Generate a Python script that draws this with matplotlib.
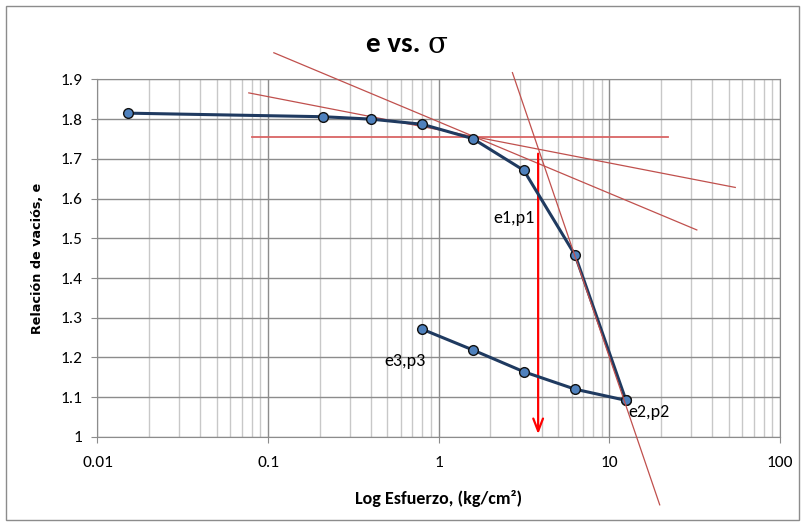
import matplotlib.pyplot as plt
from matplotlib.patches import Rectangle
from matplotlib.ticker import LogLocator, NullFormatter, FixedLocator

# loading branch
carga_p = [0.015, 0.21, 0.40, 0.80, 1.58, 3.15, 6.3, 12.5]
carga_e = [1.815, 1.806, 1.800, 1.787, 1.751, 1.671, 1.457, 1.092]
# unloading branch
descarga_p = [12.5, 6.3, 3.15, 1.58, 0.80]
descarga_e = [1.092, 1.120, 1.164, 1.219, 1.271]

# construction lines (Casagrande)
horiz_p = [0.08, 21.9]
horiz_e = [1.756, 1.756]
tang_p = [0.077, 54.6]
tang_e = [1.866, 1.628]
bisec_p = [0.108, 32.5]
bisec_e = [1.967, 1.521]
virgen_p = [2.70, 19.7]
virgen_e = [1.917, 0.829]
flecha_p = 3.82
flecha_e = [1.720, 1.0]

etiquetas = [("e1,p1", 2.1, 1.551), ("e3,p3", 0.48, 1.190), ("e2,p2", 12.9, 1.063)]

plt.rcParams['font.family'] = ['Carlito', 'Lato', 'DejaVu Sans']

fig = plt.figure(figsize=(8.05, 5.25), dpi=100)
fig.patches.append(Rectangle((6 / 805, 5 / 525), 793 / 805, 514 / 525, transform=fig.transFigure,
                             fill=False, edgecolor='#8c8c8c', linewidth=1))
ax = fig.add_axes([0.1211, 0.1678, 0.848, 0.681])

ax.set_xscale('log')
ax.set_xlim(0.01, 100)
ax.set_ylim(1.0, 1.9)
ax.yaxis.set_major_locator(FixedLocator([1.0, 1.1, 1.2, 1.3, 1.4, 1.5, 1.6, 1.7, 1.8, 1.9]))
ax.set_yticklabels(['1', '1.1', '1.2', '1.3', '1.4', '1.5', '1.6', '1.7', '1.8', '1.9'])
ax.xaxis.set_minor_locator(LogLocator(base=10, subs=range(2, 10), numticks=20))
ax.xaxis.set_minor_formatter(NullFormatter())
ax.set_xticks([0.01, 0.1, 1, 10, 100])
ax.set_xticklabels(['0.01', '0.1', '1', '10', '100'])

ax.grid(True, which='major', axis='both', color='#8c8c8c', linewidth=1)
ax.grid(True, which='minor', axis='x', color='#c8c8c8', linewidth=1)
ax.set_axisbelow(True)
for s in ax.spines.values():
    s.set_color('#8c8c8c')
ax.tick_params(axis='both', which='major', length=4, color='#8c8c8c', labelsize=12.5, pad=7)
ax.tick_params(axis='x', which='minor', length=0)
ax.tick_params(axis='x', which='major', pad=10)

ax.plot(carga_p, carga_e, color='#1F3A60', linewidth=2.2, marker='o', markersize=7,
        markerfacecolor='#4F81BD', markeredgecolor='#111111', markeredgewidth=1, zorder=4)
ax.plot(descarga_p, descarga_e, color='#1F3A60', linewidth=2.2, marker='o', markersize=7,
        markerfacecolor='#4F81BD', markeredgecolor='#111111', markeredgewidth=1, zorder=4)

ax.plot(horiz_p, horiz_e, color='#D96565', linewidth=1.3, clip_on=False, zorder=3)
ax.plot(tang_p, tang_e, color='#C0504D', linewidth=0.9, clip_on=False, zorder=3)
ax.plot(bisec_p, bisec_e, color='#C0504D', linewidth=0.9, clip_on=False, zorder=3)
ax.plot(virgen_p, virgen_e, color='#C0504D', linewidth=0.9, clip_on=False, zorder=5)

ax.annotate('', xy=(flecha_p, flecha_e[1]), xytext=(flecha_p, flecha_e[0]),
            arrowprops=dict(arrowstyle='->,head_length=0.9,head_width=0.35', color='#FF0000', lw=1.6),
            zorder=3)

for txt, x, y in etiquetas:
    ax.text(x, y, txt, fontsize=13, color='black', ha='left', va='center', zorder=6)

fig.text(0.531, 0.917, 'e vs. ', fontsize=21, fontweight='bold', ha='right', va='center')
fig.text(0.531, 0.914, 'σ', fontsize=21, ha='left', va='center', family=['DejaVu Serif'])

ax.set_xlabel('Log Esfuerzo, (kg/cm²)', fontsize=13, fontweight='bold', labelpad=14)
ax.set_ylabel('Relación de vaciós, e', fontsize=9.2, fontweight='bold', labelpad=12,
              family=['DejaVu Sans'])

fig.savefig('out.png', dpi=100)
